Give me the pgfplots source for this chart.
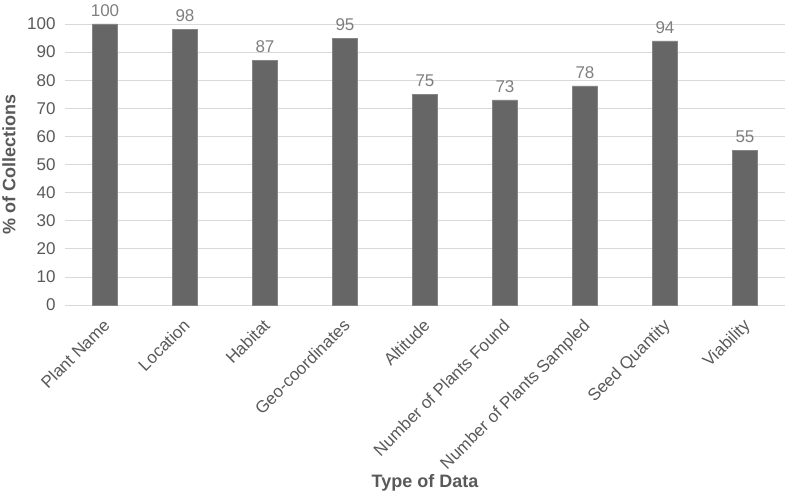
\documentclass[border=0pt]{standalone}
\usepackage{pgfplots}
\pgfplotsset{compat=1.18}
\usepackage{fontspec}
\setmainfont{Liberation Sans}
\definecolor{barfill}{HTML}{666666}
\definecolor{txt}{HTML}{595959}
\definecolor{lbl}{HTML}{7F7F7F}
\definecolor{gridc}{HTML}{D9D9D9}

\begin{document}
\begin{tikzpicture}
\path[use as bounding box] (-65pt,-190pt) rectangle (722pt,305pt);
\begin{axis}[
    scale only axis,
    width=720pt,
    height=281pt,
    xmin=-0.5, xmax=8.5,
    ymin=0, ymax=100,
    ytick={0,10,...,100},
    xtick={0,...,8},
    xticklabels={Plant Name, Location, Habitat, Geo-coordinates, Altitude, Number of Plants Found, Number of Plants Sampled, Seed Quantity, Viability},
    ymajorgrids,
    grid style={gridc, line width=0.8pt},
    axis line style={draw=none},
    major tick length=0pt,
    tick label style={font=\fontsize{17}{19}\selectfont, text=txt},
    /pgf/number format/assume math mode=true,
    yticklabel style={xshift=-6pt},
    xticklabel style={rotate=45, anchor=north east, inner sep=1pt, xshift=-10pt, yshift=-6pt},
    ylabel={\textbf{\% of Collections}},
    xlabel={\textbf{Type of Data}},
    label style={font=\fontsize{18}{20}\selectfont, text=txt},
    ylabel style={at={(rel axis cs:0,0.5)}, anchor=south, yshift=46pt},
    xlabel style={at={(rel axis cs:0.5,0)}, anchor=south, yshift=-190pt},
    nodes near coords,
    every node near coord/.append style={font=\fontsize{17}{19}\selectfont, text=lbl, yshift=4pt},
]
\addplot[ybar, bar width=25pt, fill=barfill, draw=barfill!80!white] coordinates {
    (0,100) (1,98) (2,87) (3,95) (4,75) (5,73) (6,78) (7,94) (8,55)
};
\end{axis}
\end{tikzpicture}
\end{document}
